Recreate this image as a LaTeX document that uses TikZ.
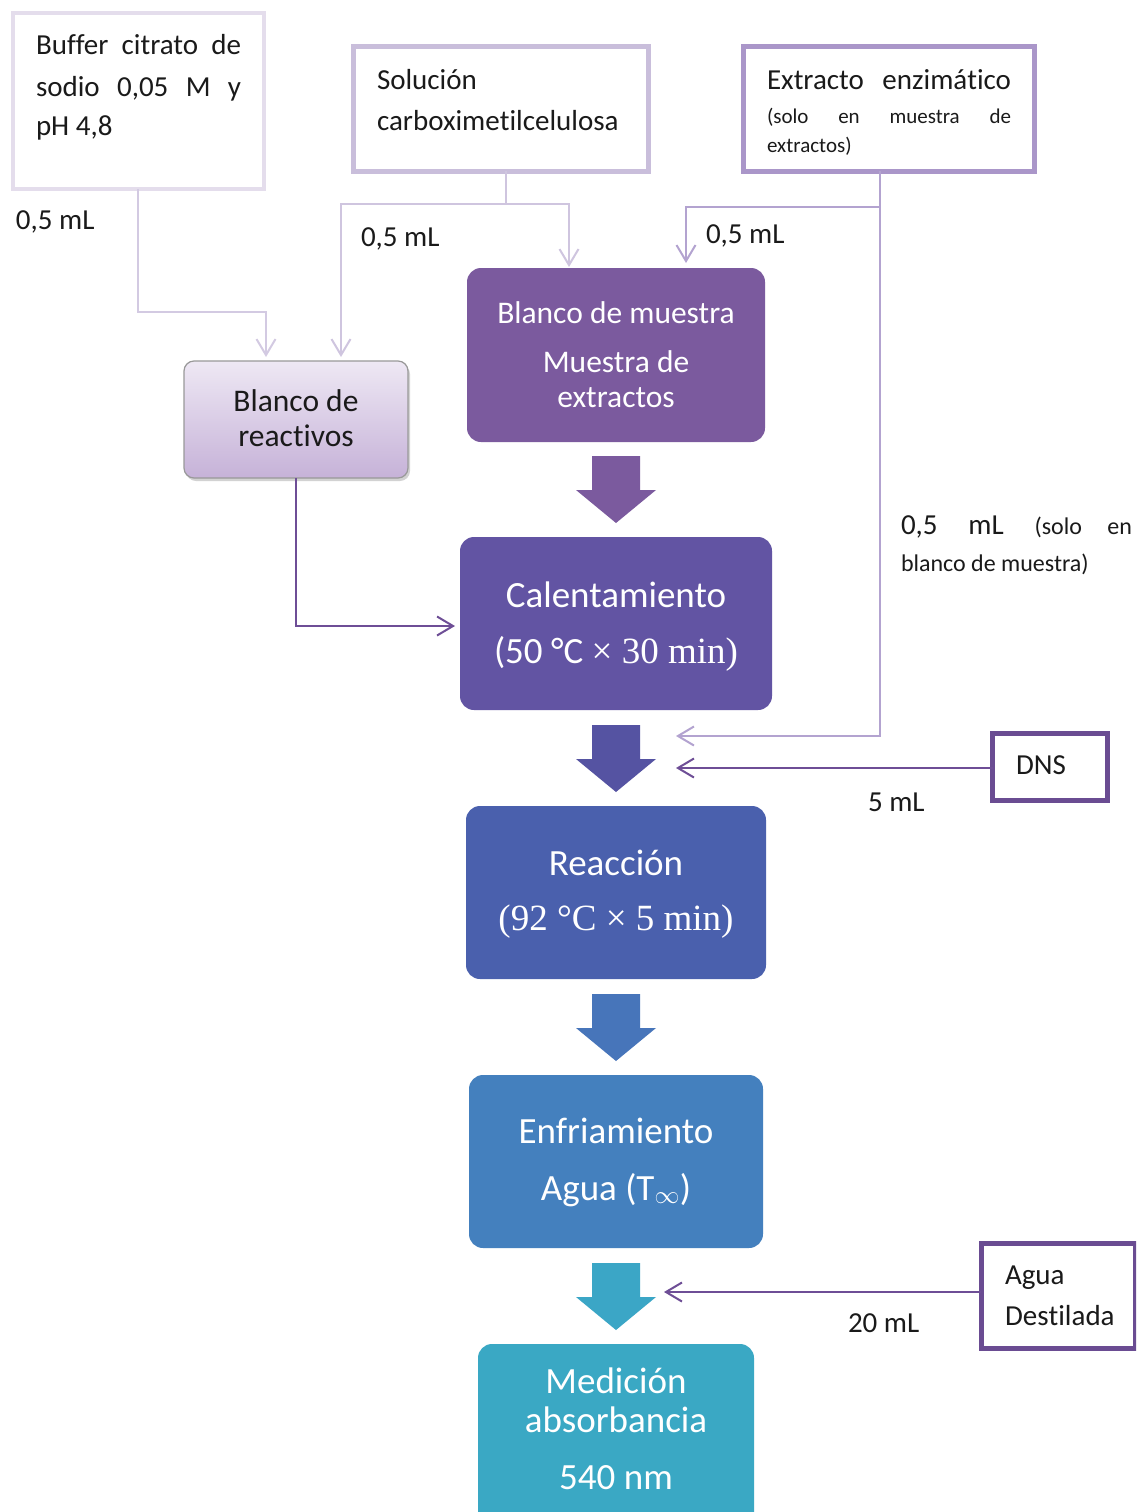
\documentclass[tikz,border=0pt]{standalone}
\usepackage{fontspec}
\setmainfont{Carlito}[Ligatures={NoCommon,NoContextual}]
\newfontfamily\tnr{Liberation Serif}
\usetikzlibrary{arrows.meta,shadows}
\definecolor{txt}{HTML}{1A1A1A}
\definecolor{bOne}{HTML}{E4DDEC}
\definecolor{bTwo}{HTML}{C9BEDB}
\definecolor{bThree}{HTML}{AA96C9}
\definecolor{cOne}{HTML}{D3CAE2}
\definecolor{cTwo}{HTML}{CFC5DF}
\definecolor{cThree}{HTML}{B3A3D0}
\definecolor{pDark}{HTML}{6E4E96}
\definecolor{dnsB}{HTML}{6A4C92}
\definecolor{fMuestra}{HTML}{7B5A9E}
\definecolor{fCal}{HTML}{6254A3}
\definecolor{aTwo}{HTML}{5553A2}
\definecolor{fReac}{HTML}{4A60AD}
\definecolor{aThree}{HTML}{4775BA}
\definecolor{fEnf}{HTML}{4480BE}
\definecolor{aFour}{HTML}{3BA6C6}
\definecolor{fMed}{HTML}{3AA8C4}
\definecolor{gTop}{HTML}{EEE8F4}
\definecolor{gBot}{HTML}{C6B2D8}
\newcommand\fsz[1]{\fontsize{#1}{#1}\selectfont}
\newcommand\nl{\kern0pt }
\begin{document}
\begin{tikzpicture}[x=1pt,y=-1pt,
  lbl/.style={anchor=base west, inner sep=0, outer sep=0, text=txt, font=\fsz{29}},
  wtxt/.style={anchor=base, inner sep=0, outer sep=0, text=white},
  srcbox/.style={draw, rectangle, inner sep=0, outer sep=0, fill=white},
  stepbox/.style={rectangle, rounded corners=14pt, inner sep=0, outer sep=0},
  conn/.style={line width=2pt},
  tipx/.style={-{Straight Barb[length=16pt,width=19pt]}},
  barrow/.pic={\fill (-24,0) -- (24,0) -- (24,34) -- (40,34) -- (0,67) -- (-40,34) -- (-24,34) -- cycle;}
  ]
\clip (0,0) rectangle (1136,1512);
\fill[white] (0,0) rectangle (1136,1512);

% source boxes
\node[srcbox, draw=bOne, line width=4pt, minimum width=251pt, minimum height=176pt] (buf) at (138.5,101) {};
\node[lbl] (buf1) at (36,55) {\makebox[205pt][s]{Buf\nl fer citrato de}};
\node[lbl] (buf2) at (36,96) {\makebox[205pt][s]{sodio 0,05 M y}};
\node[lbl] (buf3) at (36,135) {pH 4,8};

\node[srcbox, draw=bTwo, line width=5pt, minimum width=295pt, minimum height=124pt] (sol) at (500.5,109) {};
\node[lbl] (sol1) at (377,89) {Solución};
\node[lbl] (sol2) at (377,130) {carboxime\nl tilcelulosa};

\node[srcbox, draw=bThree, line width=5pt, minimum width=291pt, minimum height=124pt] (ext) at (888.5,109) {};
\node[lbl] (ext1) at (767,89) {\makebox[244pt][s]{Extracto enzimá\nl tico}};
\node[lbl, font=\fsz{21}] (ext2) at (767,123) {\makebox[244pt][s]{(solo en muestra de}};
\node[lbl, font=\fsz{21}] (ext3) at (767,152) {extractos)};

% step boxes
\node[stepbox, rounded corners=10pt, draw=gray!80, line width=1.2pt, top color=gTop, bottom color=gBot,
      drop shadow={shadow xshift=2pt, shadow yshift=-3pt, opacity=0.35},
      minimum width=224pt, minimum height=117pt] (rea) at (296,419.5) {};
\node[wtxt, text=txt, font=\fsz{31.5}] (rea1) at (296,411) {Blanco de};
\node[wtxt, text=txt, font=\fsz{31.5}] (rea2) at (296,446) {reac\nl tivos};

\node[stepbox, fill=fMuestra, minimum width=298pt, minimum height=174pt] (mue) at (616,355) {};
\node[wtxt, font=\fsz{31.5}] (mue1) at (616,323) {Blanco de muestra};
\node[wtxt, font=\fsz{31.5}] (mue2) at (616,372) {Muestra de};
\node[wtxt, font=\fsz{31.5}] (mue3) at (616,407) {extractos};

\node[stepbox, fill=fCal, minimum width=312pt, minimum height=173pt] (cal) at (616,623.5) {};
\node[wtxt, font=\fsz{37}] (cal1) at (616,607) {Calentamiento};
\node[wtxt, font=\fsz{37}] (cal2) at (616,663) {(50 °\nl C {\tnr × 30 min)}};

\node[stepbox, fill=fReac, minimum width=300pt, minimum height=173pt] (rxn) at (616,892.5) {};
\node[wtxt, font=\fsz{37}] (rxn1) at (616,875) {Reacción};
\node[wtxt, font=\fsz{37}\tnr] (rxn2) at (616,930) {(92 °C × 5 min)};

\node[stepbox, fill=fEnf, minimum width=294pt, minimum height=173pt] (enf) at (616,1161.5) {};
\node[wtxt, font=\fsz{37}] (enf1) at (616,1143) {Enfriamiento};
\node[wtxt, font=\fsz{37}] (enf2) at (616,1200) {Agua (T$_\infty$)};

\node[stepbox, fill=fMed, minimum width=276pt, minimum height=200pt] (med) at (616,1444) {};
\node[wtxt, font=\fsz{37}] (med1) at (616,1393) {Medición};
\node[wtxt, font=\fsz{37}] (med2) at (616,1432) {absorbancia};
\node[wtxt, font=\fsz{37}] (med3) at (616,1489) {540 nm};

% block arrows
\pic[fill=fMuestra] at (616,456) {barrow};
\pic[fill=aTwo] at (616,725) {barrow};
\pic[fill=aThree] at (616,994) {barrow};
\pic[fill=aFour] at (616,1263) {barrow};

% reagent boxes
\node[srcbox, draw=dnsB, line width=5pt, minimum width=115pt, minimum height=67pt] (dns) at (1050,767) {};
\node[wtxt, text=txt, font=\fsz{29}] (dnst) at (1041,774) {DNS};
\node[srcbox, draw=dnsB, line width=5pt, minimum width=154pt, minimum height=105pt] (agua) at (1058,1296) {};
\node[lbl] (agua1) at (1005,1284) {Agua};
\node[lbl] (agua2) at (1005,1325) {Des\nl tilada};

% coordinates
\coordinate (tBufA) at (266,357);
\coordinate (tSolA) at (341,357);
\coordinate (tSolB) at (569,267);
\coordinate (tExtA) at (686,263);
\coordinate (tExtB) at (676,736);
\coordinate (tDns) at (676,768);
\coordinate (tAgua) at (664,1292);

% connectors
\draw[conn, cOne, tipx] (buf.south -| 138,0) -- (138,312) -| (tBufA);
\draw[conn, cTwo] (sol.south -| 506,0) -- (506,204);
\draw[conn, cTwo, tipx] (506,204) -| (tSolA);
\draw[conn, cTwo, tipx] (506,204) -| (tSolB);
\draw[conn, cThree, tipx] (ext.south -| 880,0) -- (880,207) -| (tExtA);
\draw[conn, cThree, tipx] (880,207) -- (880,736) -- (tExtB);
\draw[conn, pDark, tipx] (rea.south) |- (455,626) coordinate (tRea);
\draw[conn, pDark, tipx] (dns.west |- tDns) -- (tDns);
\draw[conn, pDark, tipx] (agua.west |- tAgua) -- (tAgua);

% labels
\node[lbl] (l1) at (16,229) {0,5 mL};
\node[lbl] (l2) at (361,246) {0,5 mL};
\node[lbl] (l3) at (706,243) {0,5 mL};
\node[lbl] (l4) at (901,534) {\makebox[231pt][s]{0,5 mL {\fsz{24}(solo en}}};
\node[lbl, font=\fsz{24}] (l5) at (901,571) {blanco de muestra)};
\node[lbl] (l6) at (868,811) {5 mL};
\node[lbl] (l7) at (848,1332) {20 mL};
\end{tikzpicture}
\end{document}
